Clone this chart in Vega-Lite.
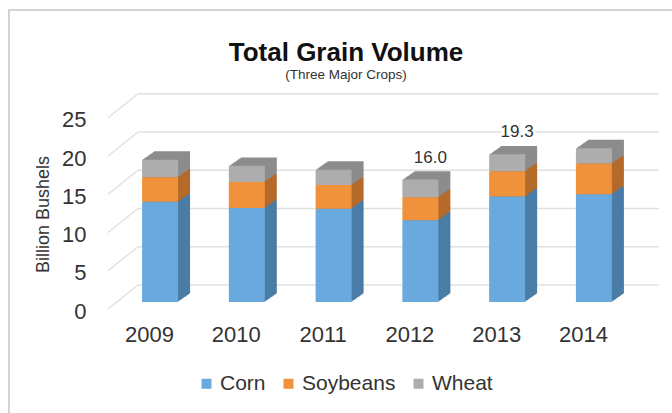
{
  "$schema": "https://vega.github.io/schema/vega-lite/v6.json",
  "width": 668,
  "height": 408,
  "autosize": {"type": "none"},
  "padding": {"left": 9, "top": 10, "right": -5, "bottom": -5},
  "background": "white",
  "config": {
    "font": "Liberation Sans",
    "view": {"stroke": "#d4d4d4", "strokeWidth": 2},
    "axis": {"grid": false, "domain": false, "ticks": false}
  },
  "title": {
    "text": "Total Grain Volume",
    "subtitle": "(Three Major Crops)",
    "anchor": "middle",
    "frame": "group",
    "fontSize": 26,
    "fontWeight": "bold",
    "color": "#111111",
    "subtitleFontSize": 13.5,
    "subtitleColor": "#333333",
    "subtitlePadding": 2,
    "offset": -71,
    "dx": 3
  },
  "datasets": {
    "crops": [
      {"year": 2009, "crop": "Corn", "value": 13.1},
      {"year": 2009, "crop": "Soybeans", "value": 3.2},
      {"year": 2009, "crop": "Wheat", "value": 2.3},
      {"year": 2010, "crop": "Corn", "value": 12.3},
      {"year": 2010, "crop": "Soybeans", "value": 3.4},
      {"year": 2010, "crop": "Wheat", "value": 2.1},
      {"year": 2011, "crop": "Corn", "value": 12.2},
      {"year": 2011, "crop": "Soybeans", "value": 3.1},
      {"year": 2011, "crop": "Wheat", "value": 2.0},
      {"year": 2012, "crop": "Corn", "value": 10.7},
      {"year": 2012, "crop": "Soybeans", "value": 3.0},
      {"year": 2012, "crop": "Wheat", "value": 2.3},
      {"year": 2013, "crop": "Corn", "value": 13.8},
      {"year": 2013, "crop": "Soybeans", "value": 3.3},
      {"year": 2013, "crop": "Wheat", "value": 2.2},
      {"year": 2014, "crop": "Corn", "value": 14.1},
      {"year": 2014, "crop": "Soybeans", "value": 4.0},
      {"year": 2014, "crop": "Wheat", "value": 2.0}
    ],
    "ticks": [{"v": 0}, {"v": 5}, {"v": 10}, {"v": 15}, {"v": 20}, {"v": 25}]
  },
  "layer": [
    {
      "data": {"name": "crops"},
      "mark": {"type": "bar", "width": 36, "opacity": 0},
      "encoding": {
        "x": {
          "field": "year",
          "type": "quantitative",
          "scale": {"domain": [2008.4, 2014.75], "range": [94, 655], "nice": false, "zero": false},
          "axis": {
            "values": [2009, 2010, 2011, 2012, 2013, 2014],
            "format": "d",
            "orient": "bottom",
            "offset": -84,
            "labelPadding": 0,
            "tickSize": 0,
            "labelBaseline": "middle",
            "labelOffset": -11,
            "labelFontSize": 22,
            "labelColor": "#333333",
            "title": null
          }
        },
        "y": {
          "field": "value",
          "type": "quantitative",
          "stack": "zero",
          "scale": {"domain": [0, 25], "range": [292, 100.75], "nice": false},
          "axis": {
            "values": [0, 5, 10, 15, 20, 25],
            "offset": -77,
            "labelPadding": 0,
            "tickSize": 0,
            "labelOffset": 9,
            "labelFontSize": 22,
            "labelColor": "#333333",
            "title": "Billion Bushels",
            "titleFontSize": 18,
            "titleFontWeight": "normal",
            "titleColor": "#333333",
            "titleX": -43,
            "titleY": 204,
            "titleAngle": 270,
            "titleAlign": "center",
            "titleBaseline": "middle"
          }
        },
        "order": {"field": "crop", "sort": "ascending"},
        "color": {
          "field": "crop",
          "type": "nominal",
          "scale": {"domain": ["Corn", "Soybeans", "Wheat"], "range": ["#6aa9dd", "#f0913b", "#adadad"]},
          "legend": {
            "orient": "none",
            "legendX": 187,
            "legendY": 363,
            "direction": "horizontal",
            "columns": 3,
            "columnPadding": 12,
            "padding": 0,
            "symbolType": "square",
            "symbolSize": 100,
            "symbolStrokeWidth": 0,
            "symbolOpacity": 1,
            "labelFontSize": 21,
            "labelOffset": 3,
            "labelColor": "#333333",
            "title": null
          }
        }
      }
    },
    {
      "data": {"name": "ticks"},
      "mark": {"type": "rule", "color": "#e0e0e0", "strokeWidth": 1.5, "x2Offset": 30, "yOffset": 7, "y2Offset": -17},
      "encoding": {
        "x": {"datum": 2008.4, "type": "quantitative"},
        "x2": {"datum": 2008.4},
        "y": {"field": "v", "type": "quantitative"},
        "y2": {"field": "v"}
      }
    },
    {
      "data": {"name": "ticks"},
      "mark": {"type": "rule", "color": "#e0e0e0", "strokeWidth": 1.5, "xOffset": 30, "yOffset": -17, "y2Offset": -17},
      "encoding": {
        "x": {"datum": 2008.4, "type": "quantitative"},
        "x2": {"datum": 2014.75},
        "y": {"field": "v", "type": "quantitative"},
        "y2": {"field": "v"}
      }
    },
    {
      "data": {"name": "crops"},
      "encoding": {
        "x": {"field": "year", "type": "quantitative"},
        "y": {"field": "value", "type": "quantitative", "stack": "zero"},
        "order": {"field": "crop", "sort": "ascending"},
        "fill": {"field": "crop", "type": "nominal", "scale": {"domain": ["Corn", "Soybeans", "Wheat"], "range": ["#4a7da6", "#b66a2a", "#8c8c8c"]}, "legend": null}
      },
      "layer": [
        {"mark": {"type": "bar", "width": 36, "xOffset": 12, "yOffset": -8.4, "y2Offset": -8.4}},
        {"mark": {"type": "bar", "width": 36, "xOffset": 11, "yOffset": -7.7, "y2Offset": -7.7}},
        {"mark": {"type": "bar", "width": 36, "xOffset": 10, "yOffset": -7, "y2Offset": -7}},
        {"mark": {"type": "bar", "width": 36, "xOffset": 9, "yOffset": -6.3, "y2Offset": -6.3}},
        {"mark": {"type": "bar", "width": 36, "xOffset": 8, "yOffset": -5.6, "y2Offset": -5.6}},
        {"mark": {"type": "bar", "width": 36, "xOffset": 7, "yOffset": -4.9, "y2Offset": -4.9}},
        {"mark": {"type": "bar", "width": 36, "xOffset": 6, "yOffset": -4.2, "y2Offset": -4.2}},
        {"mark": {"type": "bar", "width": 36, "xOffset": 5, "yOffset": -3.5, "y2Offset": -3.5}},
        {"mark": {"type": "bar", "width": 36, "xOffset": 4, "yOffset": -2.8, "y2Offset": -2.8}},
        {"mark": {"type": "bar", "width": 36, "xOffset": 3, "yOffset": -2.1, "y2Offset": -2.1}},
        {"mark": {"type": "bar", "width": 36, "xOffset": 2, "yOffset": -1.4, "y2Offset": -1.4}},
        {"mark": {"type": "bar", "width": 36, "xOffset": 1, "yOffset": -0.7, "y2Offset": -0.7}}
      ]
    },
    {
      "data": {"name": "crops"},
      "mark": {"type": "bar", "width": 36},
      "encoding": {
        "x": {"field": "year", "type": "quantitative"},
        "y": {"field": "value", "type": "quantitative", "stack": "zero"},
        "order": {"field": "crop", "sort": "ascending"},
        "color": {"field": "crop", "type": "nominal"}
      }
    },
    {
      "data": {"name": "crops"},
      "transform": [
        {"aggregate": [{"op": "sum", "field": "value", "as": "total"}], "groupby": ["year"]},
        {"filter": {"field": "year", "oneOf": [2012, 2013]}}
      ],
      "encoding": {
        "x": {"field": "year", "type": "quantitative"},
        "y": {"field": "total", "type": "quantitative"},
        "text": {"field": "total", "type": "quantitative", "format": ".1f"}
      },
      "layer": [
        {"mark": {"type": "text", "dx": 10, "dy": -22, "fontSize": 17, "baseline": "middle", "fill": "white", "stroke": "white", "strokeWidth": 6, "strokeJoin": "round"}},
        {"mark": {"type": "text", "dx": 10, "dy": -22, "fontSize": 17, "baseline": "middle", "color": "#333333"}}
      ]
    }
  ]
}
